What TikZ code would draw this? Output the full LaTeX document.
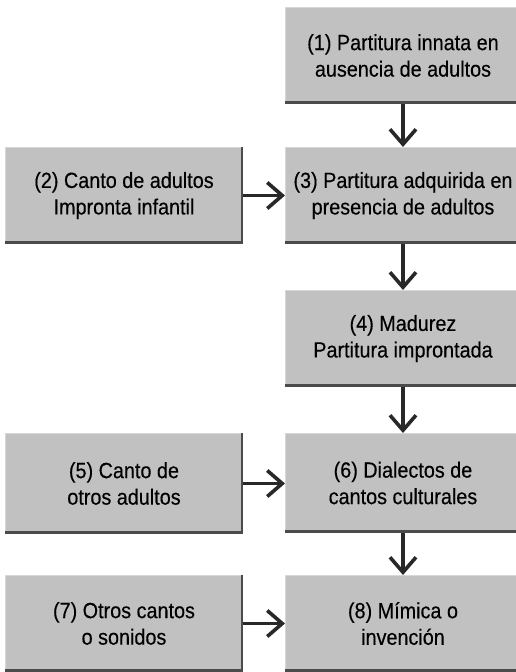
\documentclass[tikz,border=0pt]{standalone}
\usepackage{fontspec}
\setmainfont{Liberation Sans}[FakeStretch=0.9,FakeBold=0.3]
\usetikzlibrary{arrows.meta}
\definecolor{boxgray}{RGB}{193,193,193}
\definecolor{edgegray}{RGB}{75,75,75}
\definecolor{lightedge}{RGB}{215,215,215}
\definecolor{arrowgray}{RGB}{40,40,40}
\tikzset{
  box/.style={fill=boxgray, minimum width=236pt, minimum height=97pt,
    inner sep=0pt, outer sep=0pt, align=center, anchor=north west,
    font=\fontsize{22}{26.5}\selectfont},
  conn/.style={draw=arrowgray, line width=3.6pt,
    -{Straight Barb[length=15pt,width=26pt]}},
  bottomedge/.style={draw=edgegray, line width=3pt},
  rightedge/.style={draw=edgegray, line width=2pt},
  topedge/.style={draw=lightedge, line width=1pt},
}
\newcommand{\bxedges}[1]{%
  \draw[topedge] ([yshift=-0.5pt]#1.north west) -- ([yshift=-0.5pt]#1.north east);
  \draw[topedge] ([xshift=0.5pt]#1.north west) -- ([xshift=0.5pt]#1.south west);
  \draw[rightedge] ([xshift=-1pt]#1.north east) -- ([xshift=-1pt]#1.south east);
  \draw[bottomedge] ([yshift=1.5pt]#1.south west) -- ([yshift=1.5pt]#1.south east);
}
\begin{document}
\begin{tikzpicture}[x=1pt,y=-1pt]
\useasboundingbox (0,0) rectangle (516,672);
\clip (0,0) rectangle (516,672);
\fill[white] (0,0) rectangle (516,672);
\node[box] (b1) at (285,7)   {(1) Partitura innata en\\ausencia de adultos};
\node[box, minimum width=238pt] (b2) at (5,147)   {(2) Canto de adultos\\Impronta infantil};
\node[box] (b3) at (285,147) {(3) Partitura adquirida en\\presencia de adultos};
\node[box] (b4) at (285,290) {(4) Madurez\\Partitura improntada};
\node[box, minimum width=238pt, minimum height=101pt] (b5) at (5,433)   {(5) Canto de\\otros adultos};
\node[box, minimum height=100pt] (b6) at (285,433) {(6) Dialectos de\\cantos culturales};
\node[box, minimum width=238pt] (b7) at (5,575)   {(7) Otros cantos\\o sonidos};
\node[box] (b8) at (285,575) {(8) Mímica o\\invención};
\bxedges{b1}\bxedges{b2}\bxedges{b3}\bxedges{b4}
\bxedges{b5}\bxedges{b6}\bxedges{b7}\bxedges{b8}
\draw[conn] (b1) -- (b3);
\draw[conn] (b3) -- (b4);
\draw[conn] (b4) -- (b6);
\draw[conn] (b6) -- (b8);
\draw[conn] (b2) -- (b3);
\draw[conn] (b5.east) -- (b5.east -| b6.west);
\draw[conn] (b7) -- (b8);
\end{tikzpicture}
\end{document}
